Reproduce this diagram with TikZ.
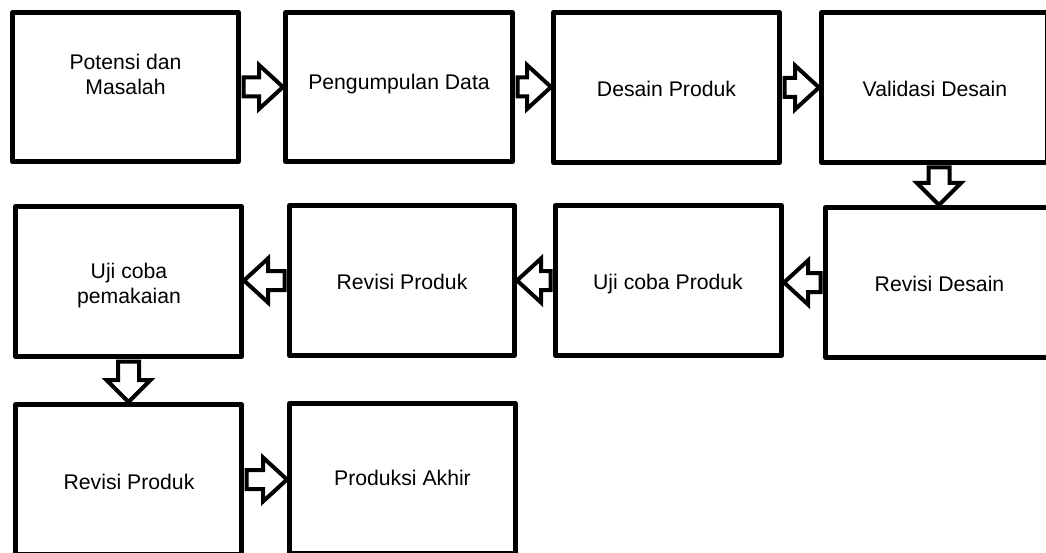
\documentclass[tikz,border=0pt]{standalone}
\usepackage{fontspec}
\setmainfont{Liberation Sans}
\usetikzlibrary{calc}
\tikzset{
  box/.style={draw, line width=5pt, line join=round, minimum width=226pt, minimum height=150pt, inner sep=0pt},
  lbl/.style={font=\fontsize{21.2}{25}\selectfont, inner sep=0pt, align=center},
  blk/.style={draw, fill=white, line width=4pt, line join=miter},
}
\newcommand\arrR[2]{\draw[blk] let \p1=(#1.east), \p2=(#2.west) in
  (\x1+2.5pt,\y1+9.5pt) -- (\x2-24pt,\y1+9.5pt) -- (\x2-24pt,\y1+22pt) -- (\x2,\y1) --
  (\x2-24pt,\y1-22pt) -- (\x2-24pt,\y1-9.5pt) -- (\x1+2.5pt,\y1-9.5pt) -- cycle;}
\newcommand\arrL[2]{\draw[blk] let \p1=(#1.west), \p2=(#2.east) in
  (\x1-2.5pt,\y1+9.5pt) -- (\x2+24pt,\y1+9.5pt) -- (\x2+24pt,\y1+22pt) -- (\x2,\y1) --
  (\x2+24pt,\y1-22pt) -- (\x2+24pt,\y1-9.5pt) -- (\x1-2.5pt,\y1-9.5pt) -- cycle;}
\newcommand\arrD[2]{\draw[blk] let \p1=(#1.south), \p2=(#2.north) in
  (\x2-10.5pt,\y1-2.5pt) -- (\x2-10.5pt,\y2+22pt) -- (\x2-22pt,\y2+22pt) -- (\x2,\y2) --
  (\x2+22pt,\y2+22pt) -- (\x2+10.5pt,\y2+22pt) -- (\x2+10.5pt,\y1-2.5pt) -- cycle;}
\begin{document}
\begin{tikzpicture}[x=1pt,y=-1pt]
\useasboundingbox (0,0) rectangle (1046,553);
\clip (0,0) rectangle (1046,553);
% boxes
\node[box, minimum height=149pt] (b1) at (125.5,87) {};
\node[box, minimum width=227pt, minimum height=149pt] (b2) at (399,87) {};
\node[box] (b3) at (666.5,87.5) {};
\node[box] (b4) at (934.5,87.5) {};
\node[box] (a2) at (128.5,281.5) {};
\node[box, minimum width=225pt] (r2) at (402,280.5) {};
\node[box] (u2) at (668.5,280.5) {};
\node[box, minimum width=227pt] (d2) at (939,282.5) {};
\node[box] (r3) at (128.5,479.5) {};
\node[box] (p3) at (402.5,478.5) {};
% labels
\node[lbl] (t1) at (125.5,74) {Potensi dan\\Masalah};
\node[lbl, anchor=base] (t2) at (399,90) {Pengumpulan Data};
\node[lbl, anchor=base] (t3) at (666.5,97) {Desain Produk};
\node[lbl, anchor=base] (t4) at (935,97) {Validasi Desain};
\node[lbl] (t5) at (129,285.5) {Uji coba\\pemakaian};
\node[lbl, anchor=base] (t6) at (402,289) {Revisi Produk};
\node[lbl, anchor=base] (t7) at (668,289) {Uji coba Produk};
\node[lbl, anchor=base] (t8) at (939.5,291) {Revisi Desain};
\node[lbl, anchor=base] (t9) at (129,489) {Revisi Produk};
\node[lbl, anchor=base] (t10) at (402.5,485) {Produksi Akhir};
% arrows
\arrR{b1}{b2}
\arrR{b2}{b3}
\arrR{b3}{b4}
\arrD{b4}{d2}
\arrL{d2}{u2}
\arrL{u2}{r2}
\arrL{r2}{a2}
\arrD{a2}{r3}
\arrR{r3}{p3}
\end{tikzpicture}
\end{document}
